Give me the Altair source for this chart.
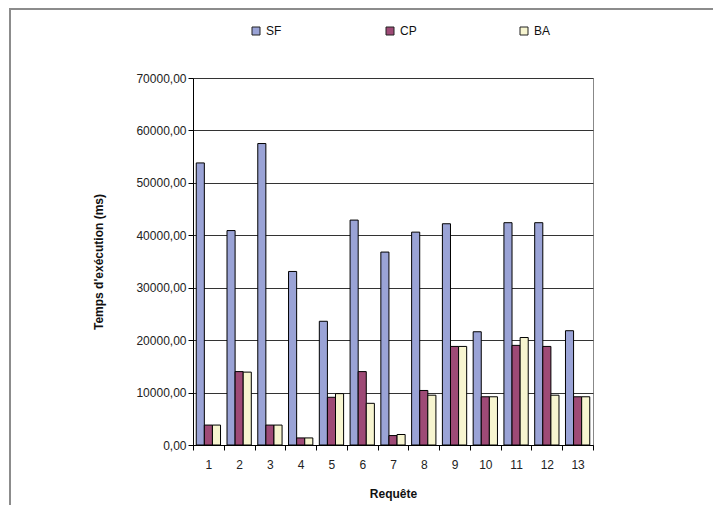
import altair as alt
import pandas as pd

requetes = [str(i) for i in range(1, 14)]
series = ["SF", "CP", "BA"]
sf = [53800, 40900, 57500, 33100, 23600, 42900, 36800, 40600, 42200, 21600, 42400, 42400, 21800]
cp = [3800, 14000, 3800, 1350, 9100, 14000, 1800, 10400, 18800, 9200, 19000, 18800, 9200]
ba = [3800, 13900, 3800, 1350, 9800, 7950, 2000, 9500, 18800, 9200, 20500, 9500, 9200]
colors = ["#9AA3D6", "#9E4A76", "#F7F5D0"]
y_ticks = [0, 10000, 20000, 30000, 40000, 50000, 60000, 70000]

rows = []
for s, vals in zip(series, [sf, cp, ba]):
    for r, v in zip(requetes, vals):
        rows.append({"Requête": r, "Série": s, "Temps": v})
df = pd.DataFrame(rows)

FONT = "Liberation Sans"

bars = alt.Chart(df).mark_bar(stroke="black", strokeWidth=1).encode(
    x=alt.X(
        "Requête:N",
        sort=requetes,
        scale=alt.Scale(paddingInner=0, paddingOuter=0),
        axis=alt.Axis(
            title="Requête",
            labelAngle=0,
            tickBand="extent",
            grid=False,
            domainColor="black",
            tickColor="black",
            tickSize=5,
            labelPadding=9,
            labelFontSize=12,
            titleFontSize=12,
            titleFontWeight="bold",
            titlePadding=18,
            labelColor="#222",
            titleColor="#111",
        ),
    ),
    xOffset=alt.XOffset(
        "Série:N",
        sort=series,
        scale=alt.Scale(paddingInner=0, paddingOuter=0.4),
    ),
    y=alt.Y(
        "Temps:Q",
        scale=alt.Scale(domain=[0, 70000], nice=False),
        axis=alt.Axis(
            title="Temps d'exécution (ms)",
            values=y_ticks,
            labelExpr="replace(format(datum.value, '.2f'), '.', ',')",
            grid=True,
            gridColor="#333",
            gridWidth=1,
            domainColor="black",
            tickColor="black",
            tickSize=5,
            labelPadding=2,
            labelFontSize=12,
            titleFontSize=12,
            titleFontWeight="bold",
            titlePadding=30,
            labelColor="#222",
            titleColor="#111",
        ),
    ),
    color=alt.Color(
        "Série:N",
        sort=series,
        scale=alt.Scale(domain=series, range=colors),
        legend=alt.Legend(
            orient="none",
            legendX=57,
            legendY=-53,
            direction="horizontal",
            title=None,
            symbolType="square",
            symbolSize=64,
            symbolStrokeColor="#222",
            symbolStrokeWidth=1,
            labelFontSize=12,
            labelColor="#111",
            gridAlign="all",
            columnPadding=101,
            labelOffset=4,
            padding=0,
        ),
    ),
)

frame_src = pd.DataFrame({"k": [0]})
top_border = alt.Chart(frame_src).mark_rule(color="#8c8c8c", strokeWidth=2).encode(
    x=alt.value(-184), x2=alt.value(530), y=alt.value(-69)
)
left_border = alt.Chart(frame_src).mark_rule(color="#8c8c8c", strokeWidth=2).encode(
    x=alt.value(-183), y=alt.value(-70), y2=alt.value(430)
)

chart = alt.layer(bars, top_border, left_border).properties(
    width=400,
    height=367,
    padding={"left": 185, "top": 70, "right": 120, "bottom": 60},
    autosize=alt.AutoSizeParams(type="none"),
).configure(
    font=FONT,
).configure_view(
    stroke="#888",
    strokeWidth=1,
)

chart.save("out.html", embed_options={"renderer": "svg", "actions": False})
